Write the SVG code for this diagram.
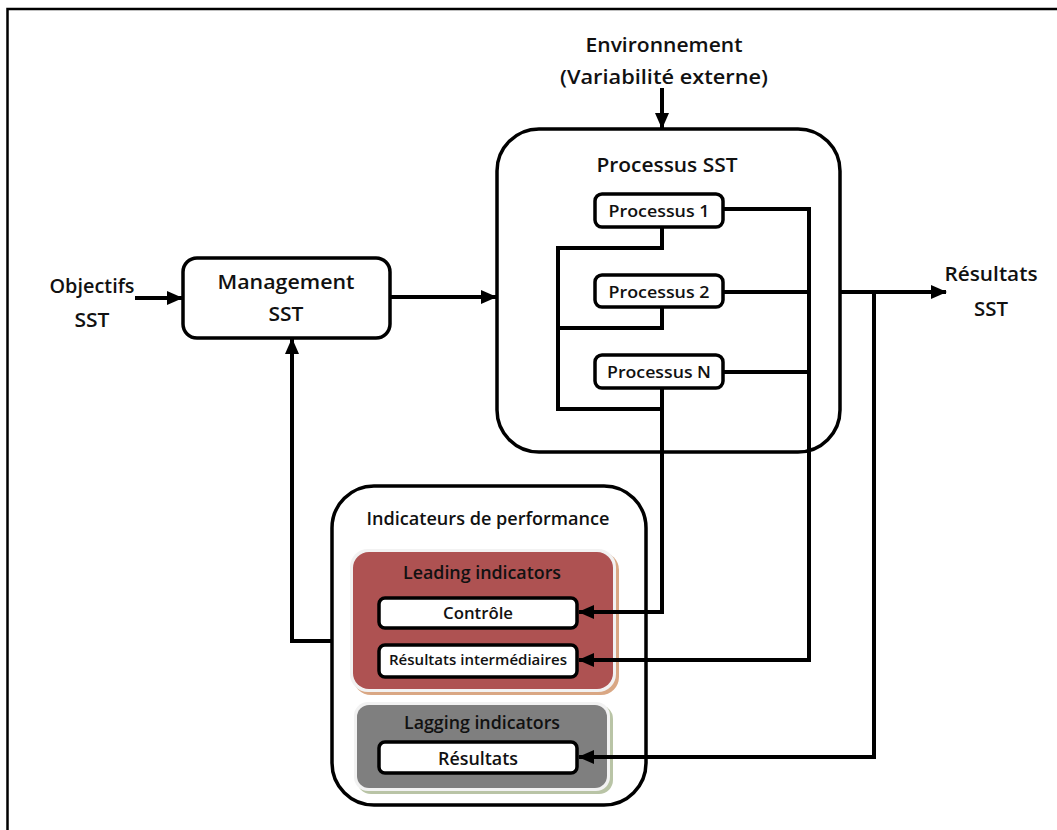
<svg xmlns="http://www.w3.org/2000/svg" width="1057" height="830" viewBox="0 0 1057 830">
<style>
text{font-family:"Open Sans","Liberation Sans",sans-serif;font-weight:600;fill:#111;text-anchor:middle}
.big{stroke:#000;stroke-width:3.5;fill:#fff}
.box{stroke:#000;stroke-width:3.5;fill:#fff}
.conn{stroke:#000;stroke-width:4;fill:none}
</style>
<defs>
<marker id="ah" markerUnits="userSpaceOnUse" markerWidth="16" markerHeight="14" refX="15" refY="7" orient="auto">
<path d="M0,0 L16,7 L0,14 z" fill="#000"/>
</marker>
</defs>
<rect width="1057" height="830" fill="#fff"/>
<path d="M7.5,830 V9 H1057" stroke="#000" stroke-width="2.5" fill="none"/>

<g id="environnement">
<text x="664" y="52" font-size="19" textLength="157" lengthAdjust="spacingAndGlyphs">Environnement</text>
<text x="664" y="84" font-size="19" textLength="208" lengthAdjust="spacingAndGlyphs">(Variabilité externe)</text>
</g>

<g id="objectifs">
<text x="92" y="293" font-size="19" textLength="85" lengthAdjust="spacingAndGlyphs">Objectifs</text>
<text x="92" y="327" font-size="19" textLength="35" lengthAdjust="spacingAndGlyphs">SST</text>
</g>

<g id="resultats-sst">
<text x="991" y="281" font-size="19" textLength="93" lengthAdjust="spacingAndGlyphs">Résultats</text>
<text x="991" y="316" font-size="19" textLength="34" lengthAdjust="spacingAndGlyphs">SST</text>
</g>

<g id="management">
<rect class="box" x="183" y="258" width="207" height="80" rx="14"/>
<text x="286" y="289" font-size="19" textLength="137" lengthAdjust="spacingAndGlyphs">Management</text>
<text x="286" y="321" font-size="19" textLength="35" lengthAdjust="spacingAndGlyphs">SST</text>
</g>

<g id="processus-sst">
<rect class="big" x="497" y="129" width="343" height="323" rx="42"/>
<text x="667" y="172" font-size="20" textLength="141" lengthAdjust="spacingAndGlyphs">Processus SST</text>
</g>

<g id="processus-1">
<rect class="box" x="595" y="194" width="128" height="33" rx="7"/>
<text x="659" y="217" font-size="17" textLength="101" lengthAdjust="spacingAndGlyphs">Processus 1</text>
</g>
<g id="processus-2">
<rect class="box" x="595" y="275" width="128" height="32" rx="7"/>
<text x="659" y="298" font-size="17" textLength="101" lengthAdjust="spacingAndGlyphs">Processus 2</text>
</g>
<g id="processus-n">
<rect class="box" x="595" y="355" width="128" height="33" rx="7"/>
<text x="659" y="378" font-size="17" textLength="104" lengthAdjust="spacingAndGlyphs">Processus N</text>
</g>

<g id="indicateurs">
<rect class="big" x="332" y="486" width="314" height="319" rx="42"/>
<text x="488" y="525" font-size="18" textLength="243" lengthAdjust="spacingAndGlyphs">Indicateurs de performance</text>
</g>

<g id="leading">
<rect x="353" y="552" width="266" height="143" rx="18" fill="#D9A784"/>
<rect x="350" y="549" width="266" height="143" rx="18" fill="#F2F2F2"/>
<rect x="353" y="552" width="260" height="137" rx="16" fill="#AE5252"/>
<text x="482" y="579" font-size="18" textLength="158" lengthAdjust="spacingAndGlyphs">Leading indicators</text>
</g>
<g id="controle">
<rect class="box" x="379" y="598" width="198" height="30" rx="6"/>
<text x="478" y="619" font-size="16" textLength="70" lengthAdjust="spacingAndGlyphs">Contrôle</text>
</g>
<g id="resultats-intermediaires">
<rect class="box" x="379" y="645" width="198" height="32" rx="6"/>
<text x="478" y="665" font-size="14" textLength="178" lengthAdjust="spacingAndGlyphs">Résultats intermédiaires</text>
</g>

<g id="lagging">
<rect x="357" y="705" width="256" height="89" rx="14" fill="#B9C4A6"/>
<rect x="354" y="702" width="256" height="89" rx="14" fill="#F2F2F2"/>
<rect x="357" y="705" width="250" height="83" rx="12" fill="#7F7F7F"/>
<text x="482" y="729" font-size="18" textLength="156" lengthAdjust="spacingAndGlyphs">Lagging indicators</text>
</g>
<g id="resultats">
<rect class="box" x="379" y="742" width="198" height="31" rx="6"/>
<text x="478" y="765" font-size="18" textLength="80" lengthAdjust="spacingAndGlyphs">Résultats</text>
</g>

<g id="connectors">
<path class="conn" d="M662,88 V128" marker-end="url(#ah)"/>
<path class="conn" d="M135,298 H182" marker-end="url(#ah)"/>
<path class="conn" d="M390,297 H496" marker-end="url(#ah)"/>
<path class="conn" d="M840,292 H946" marker-end="url(#ah)"/>
<path class="conn" d="M332,641 H292 V339" marker-end="url(#ah)"/>
<path class="conn" d="M662,227 V248 H558 V409 H662"/>
<path class="conn" d="M662,307 V328 H558"/>
<path class="conn" d="M662,388 V612 H579" marker-end="url(#ah)"/>
<path class="conn" d="M723,209 H809 V660 H579" marker-end="url(#ah)"/>
<path class="conn" d="M723,292 H809"/>
<path class="conn" d="M723,372 H809"/>
<path class="conn" d="M874,292 V757 H579" marker-end="url(#ah)"/>
</g>
</svg>
